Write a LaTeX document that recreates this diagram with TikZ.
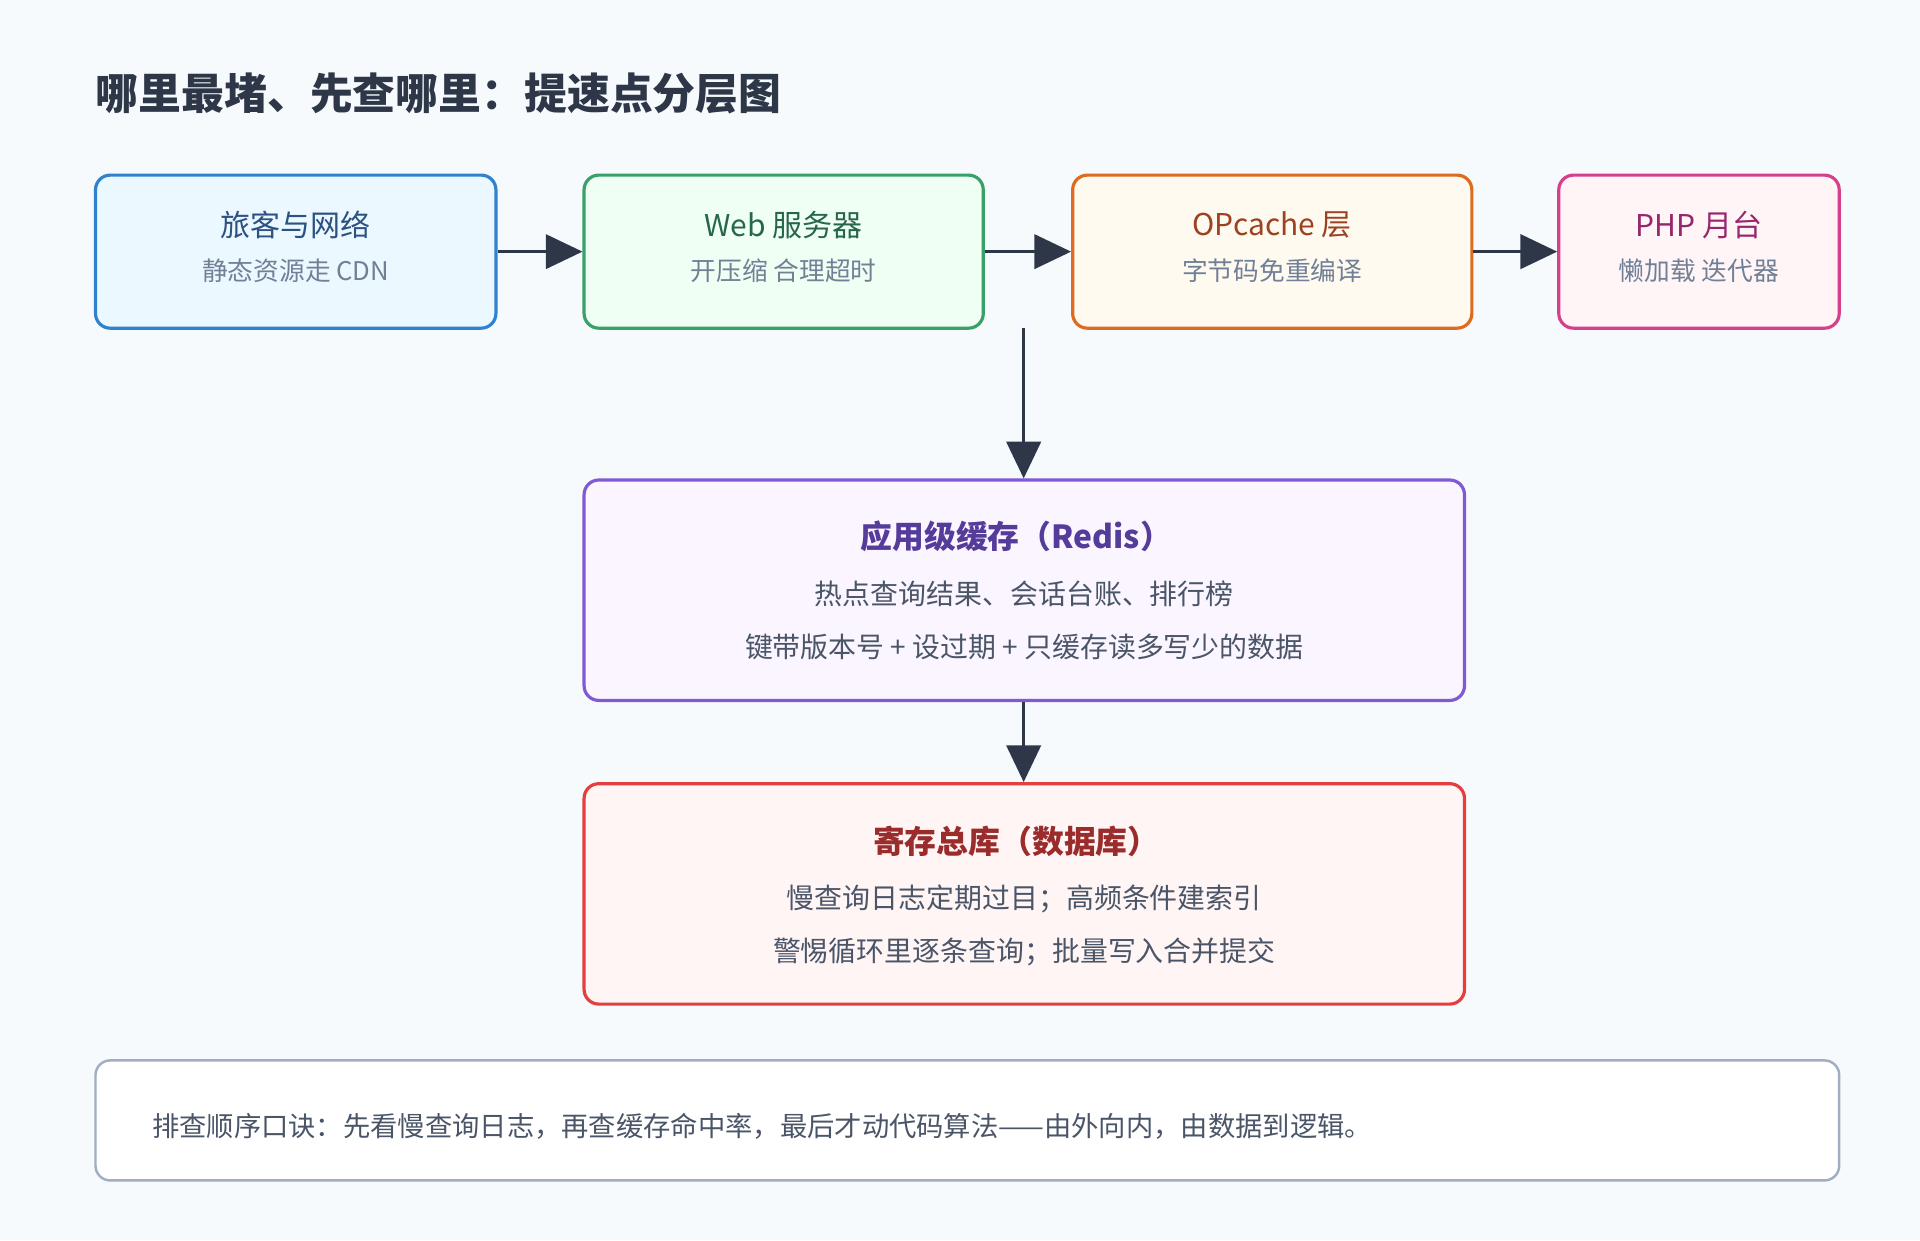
\documentclass[tikz,border=0pt]{standalone}
\usepackage{fontspec}
\setmainfont{Noto Sans CJK SC}
\usetikzlibrary{arrows.meta}
\definecolor{bg}{HTML}{F7FAFC}
\definecolor{ink}{HTML}{2D3748}
\definecolor{sub}{HTML}{718096}
\definecolor{body}{HTML}{4A5568}
\definecolor{bB}{HTML}{3182CE}\definecolor{fB}{HTML}{EBF8FF}\definecolor{tB}{HTML}{2C5282}
\definecolor{bG}{HTML}{38A169}\definecolor{fG}{HTML}{F0FFF4}\definecolor{tG}{HTML}{276749}
\definecolor{bO}{HTML}{DD6B20}\definecolor{fO}{HTML}{FFFAF0}\definecolor{tO}{HTML}{9C4221}
\definecolor{bP}{HTML}{D53F8C}\definecolor{fP}{HTML}{FFF5F7}\definecolor{tP}{HTML}{97266D}
\definecolor{bV}{HTML}{805AD5}\definecolor{fV}{HTML}{FAF5FF}\definecolor{tV}{HTML}{553C9A}
\definecolor{bR}{HTML}{E53E3E}\definecolor{fR}{HTML}{FFF5F5}\definecolor{tR}{HTML}{9B2C2C}
\definecolor{bF}{HTML}{A0AEC0}
\begin{document}
\begin{tikzpicture}[x=1pt,y=-1pt,
 box/.style={draw=#1,line width=2.6pt,rounded corners=12pt},
 ttl/.style={font=\fontsize{24.5}{28}\selectfont,anchor=center},
 st/.style={font=\fontsize{21}{24}\selectfont,text=sub,anchor=center},
 bl/.style={font=\fontsize{22.8}{26}\selectfont,text=body,anchor=center},
 arr/.style={draw=ink,line width=2.6pt,-{Triangle[length=30pt,width=28pt]}}]
\fill[bg] (0,0) rectangle (1568,1013);
\useasboundingbox (0,0) rectangle (1568,1013);
\node[anchor=west,inner sep=0pt,font=\fontsize{35}{40}\selectfont\bfseries,text=ink] (title) at (78,76) {哪里最堵、先查哪里：提速点分层图};
% top boxes
\node[box=bB,fill=fB,minimum width=327pt,minimum height=125pt] (b1) at (241.5,205.5) {};
\node[box=bG,fill=fG,minimum width=326pt,minimum height=125pt] (b2) at (640,205.5) {};
\node[box=bO,fill=fO,minimum width=326pt,minimum height=125pt] (b3) at (1039,205.5) {};
\node[box=bP,fill=fP,minimum width=229pt,minimum height=125pt] (b4) at (1387.5,205.5) {};
\node[ttl,text=tB] (t1) at (241.5,184) {旅客与网络};
\node[st] (s1) at (241.5,221) {静态资源走 CDN};
\node[ttl,text=tG] (t2) at (640,184) {Web 服务器};
\node[st] (s2) at (640,221) {开压缩 合理超时};
\node[ttl,text=tO] (t3) at (1039,184) {OPcache 层};
\node[st] (s3) at (1039,221) {字节码免重编译};
\node[ttl,text=tP] (t4) at (1387.5,184) {PHP 月台};
\node[st] (s4) at (1387.5,221) {懒加载 迭代器};
\draw[arr] (b1.east) -- (b2.west);
\draw[arr] (b2.east) -- (b3.west);
\draw[arr] (b3.east) -- (b4.west);
% redis
\node[box=bV,fill=fV,minimum width=719pt,minimum height=180pt] (r) at (836.5,482) {};
\node[font=\fontsize{26}{30}\selectfont\bfseries,text=tV] (rt) at (830,438) {应用级缓存（Redis）};
\node[bl] (r1) at (836.5,485) {热点查询结果、会话台账、排行榜};
\node[bl] (r2) at (836.5,528) {键带版本号 + 设过期 + 只缓存读多写少的数据};
\coordinate (c0) at (836,268);
\draw[arr] (c0) -- (r.north -| c0);
% db
\node[box=bR,fill=fR,minimum width=719pt,minimum height=180pt] (d) at (836.5,730) {};
\node[font=\fontsize{26}{30}\selectfont\bfseries,text=tR] (dt) at (830,687) {寄存总库（数据库）};
\node[bl] (d1) at (836.5,734) {慢查询日志定期过目；高频条件建索引};
\node[bl] (d2) at (836.5,777) {警惕循环里逐条查询；批量写入合并提交};
\draw[arr] (r.south -| c0) -- (d.north -| c0);
% footer
\node[draw=bF,line width=2pt,rounded corners=12pt,fill=white,minimum width=1424pt,minimum height=98pt] (f) at (790,915) {};
\node[bl,anchor=west,inner sep=0pt,font=\fontsize{22.3}{26}\selectfont] (ft) at (124,920) {排查顺序口诀：先看慢查询日志，再查缓存命中率，最后才动代码算法——由外向内，由数据到逻辑。};
\end{tikzpicture}
\end{document}
